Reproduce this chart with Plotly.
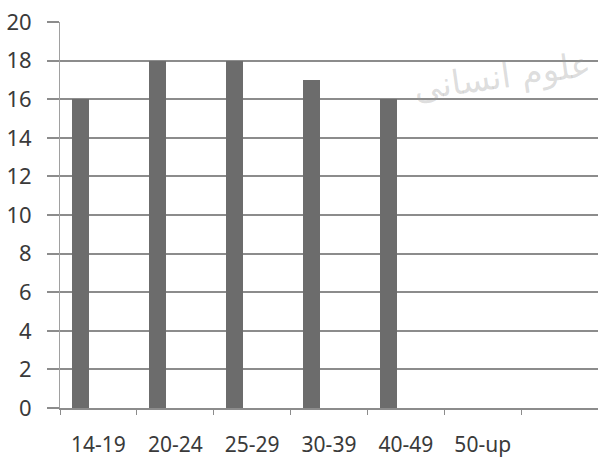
import plotly.graph_objects as go

# Age groups and counts
age_groups = ["14-19", "20-24", "25-29", "30-39", "40-49", "50-up"]
counts = [16, 18, 18, 17, 16, 0]
y_ticks = [0, 2, 4, 6, 8, 10, 12, 14, 16, 18, 20]

positions = list(range(len(age_groups)))

text_color = "#3a3a3a"
grid_color = "#8c8c8c"
bar_color = "#6c6c6c"

fig = go.Figure()
fig.add_trace(go.Bar(
    x=positions,
    y=counts,
    width=0.22,
    offset=-0.34,
    marker=dict(color=bar_color, line=dict(width=0)),
    showlegend=False,
))

# faint watermark
fig.add_annotation(
    x=0.995, y=0.86, xref="paper", yref="paper",
    xanchor="right", yanchor="middle",
    text="علوم انسانی",
    showarrow=False,
    textangle=-8,
    font=dict(family="DejaVu Sans", size=34, color="rgba(150,150,150,0.32)"),
)

fig.update_layout(
    width=598, height=459,
    margin=dict(l=60, r=0, t=22, b=51, autoexpand=False),
    paper_bgcolor="white",
    plot_bgcolor="white",
    font=dict(family="Noto Sans", size=21, color=text_color),
    bargap=0,
)

fig.update_xaxes(
    range=[-0.5, 6.5],
    tickmode="array",
    tickvals=positions,
    ticktext=age_groups,
    ticks="",
    ticklabelstandoff=17,
    automargin=False,
    showgrid=False,
    zeroline=False,
    showline=True,
    linecolor=grid_color,
    linewidth=1.5,
    tickfont=dict(size=21, color=text_color),
    minor=dict(tick0=-0.5, dtick=1, ticks="outside", ticklen=5,
               tickcolor=grid_color, tickwidth=1, showgrid=False),
)

fig.update_yaxes(
    range=[0, 20],
    tickmode="array",
    tickvals=y_ticks,
    ticks="outside",
    ticklen=12,
    tickcolor=grid_color,
    tickwidth=1.5,
    ticklabelstandoff=11,
    automargin=False,
    showgrid=True,
    gridcolor=grid_color,
    gridwidth=1.5,
    zeroline=False,
    showline=True,
    linecolor="#a0a0a0",
    linewidth=1,
    tickfont=dict(size=22, color=text_color),
)

fig.write_html("out.html")
